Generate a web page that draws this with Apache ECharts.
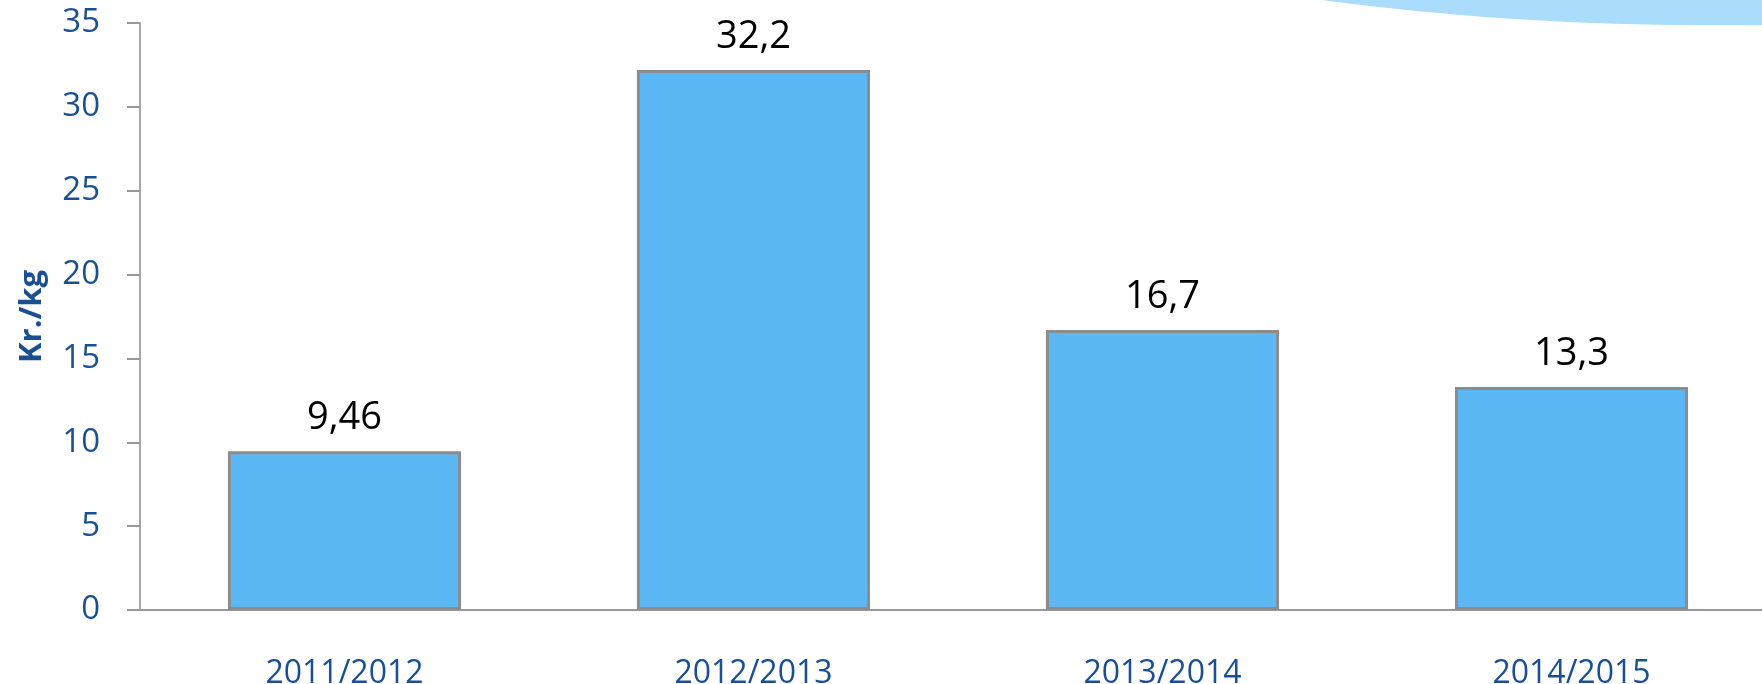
<!DOCTYPE html>
<html>
<head>
<meta charset="utf-8">
<script src="https://cdn.jsdelivr.net/npm/echarts@6/dist/echarts.min.js"></script>
<style>
    html, body { margin: 0; padding: 0; background: #fff; }
    #echarts-price-graph { width: 1762px; height: 684px; }
</style>
</head>
<body>
<div id="echarts-price-graph"></div>
<script>
const AXIS_TEXT_COLOR = '#1b4f93';
const BAR_COLOR = '#5bb8f5';
const BAR_BORDER_COLOR = '#8c8c8c';

let seasons = ['2011/2012', '2012/2013', '2013/2014', '2014/2015'];
let price_per_kg = [9.46, 32.2, 16.7, 13.3];
let y_min = 0;
let y_max = 35;
let y_interval = 5;

let echarts_price_graph = echarts.init(document.getElementById('echarts-price-graph'));

function format_value(value) {
    return String(value).replace('.', ',');
}

// light blue swoosh in the top right corner (decoration only)
function swoosh_points() {
    let points = [];
    for (let i = 0; i <= 40; i++) {
        let t = i / 40;
        let x = 1322 * (1 - t) * (1 - t) + 2 * 1530 * t * (1 - t) + 1762 * t * t;
        let y = 2 * 28 * t * (1 - t) + 25 * t * t;
        points.push([x, y]);
    }
    points.push([1762, 0]);
    return points;
}

let echarts_options = {
    animation: false,
    textStyle: { fontFamily: 'Open Sans' },
    grid: {
        left: 140,
        right: -14,
        top: 23,
        bottom: 74,
        containLabel: false,
        outerBoundsMode: 'none'
    },
    graphic: [
        {
            type: 'polygon',
            silent: true,
            shape: { points: swoosh_points() },
            style: { fill: '#a9ddfb' }
        }
    ],
    xAxis: {
        type: 'category',
        data: seasons,
        axisLine: { lineStyle: { color: '#999999', width: 2 } },
        axisTick: { show: false },
        axisLabel: {
            color: AXIS_TEXT_COLOR,
            fontSize: 32,
            margin: 48
        }
    },
    yAxis: {
        type: 'value',
        min: y_min,
        max: y_max,
        interval: y_interval,
        name: 'Kr./kg',
        nameLocation: 'middle',
        nameGap: 92,
        nameTextStyle: {
            color: AXIS_TEXT_COLOR,
            fontSize: 31,
            fontWeight: 'bold'
        },
        splitLine: { show: false },
        axisLine: { show: true, lineStyle: { color: '#a6a6a6', width: 2 } },
        axisTick: { show: true, length: 13, lineStyle: { color: '#999999', width: 2 } },
        axisLabel: {
            color: AXIS_TEXT_COLOR,
            fontSize: 33,
            margin: 40
        }
    },
    series: [
        {
            type: 'bar',
            data: price_per_kg,
            barWidth: '57%',
            itemStyle: {
                color: BAR_COLOR,
                borderColor: BAR_BORDER_COLOR,
                borderWidth: 3
            },
            label: {
                show: true,
                position: 'top',
                distance: 14,
                color: '#000000',
                fontSize: 38,
                formatter: function (params) {
                    return format_value(params.value);
                }
            }
        }
    ]
};

echarts_price_graph.setOption(echarts_options);

window.addEventListener('resize', function () {
    echarts_price_graph?.resize();
});
</script>
</body>
</html>
